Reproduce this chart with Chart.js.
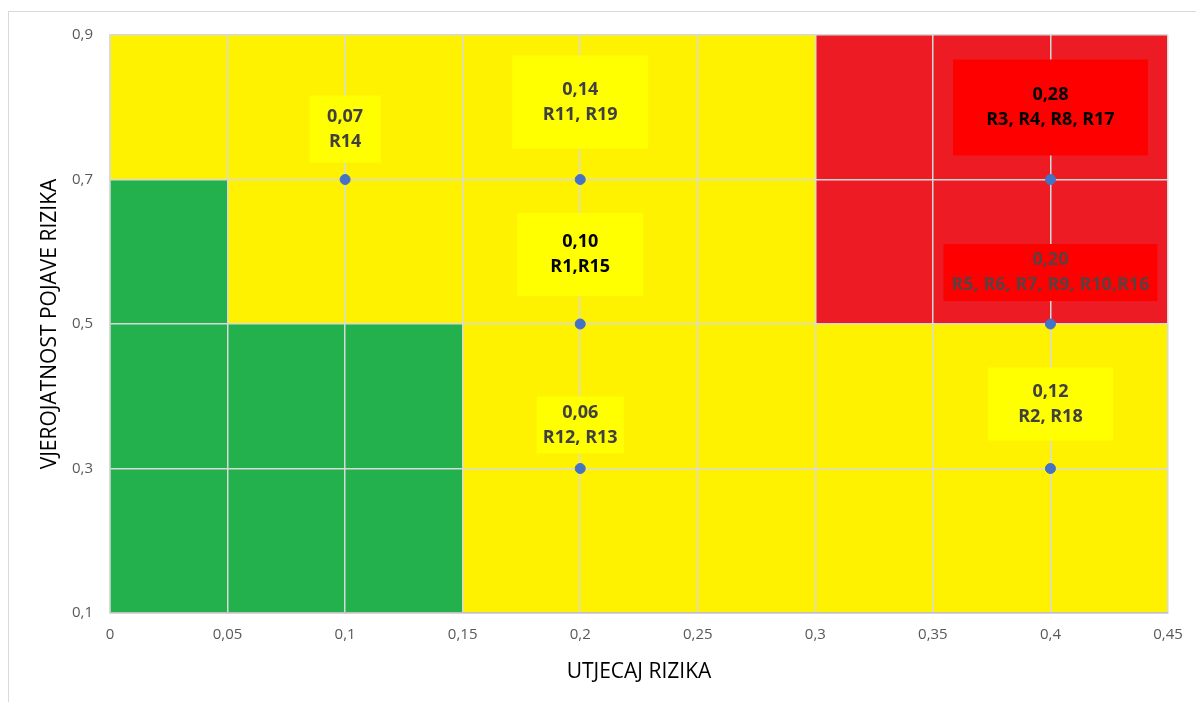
<!DOCTYPE html>
<html>
<head>
<meta charset="utf-8">
<script src="https://cdn.jsdelivr.net/npm/chart.js@4.4.1/dist/chart.umd.min.js"></script>
<style>
  html, body { margin: 0; padding: 0; background: #fff; overflow: hidden; }
  #frame { position: absolute; left: 8px; top: 11px; width: 1200px; height: 700px; border: 1px solid #d9d9d9; box-sizing: border-box; }
  #wrap { position: absolute; left: 0; top: 0; width: 1196px; height: 702px; }
</style>
</head>
<body>
<div id="frame"></div>
<div id="wrap"><canvas id="riskChart"></canvas></div>
<script>
// RISK MATRIX DATA
var impact = [0.1, 0.2, 0.2, 0.2, 0.4, 0.4, 0.4];
var probability = [0.7, 0.7, 0.5, 0.3, 0.7, 0.5, 0.3];
var scores = ["0,07", "0,14", "0,10", "0,06", "0,28", "0,20", "0,12"];
var risks = ["R14", "R11, R19", "R1,R15", "R12, R13", "R3, R4, R8, R17", "R5, R6, R7, R9, R10,R16", "R2, R18"];

var xTicks = [0, 0.05, 0.1, 0.15, 0.2, 0.25, 0.3, 0.35, 0.4, 0.45];
var yTicks = [0.1, 0.3, 0.5, 0.7, 0.9];

// zones (impact from-to, probability from-to)
var zoneX0 = [0, 0, 0.05, 0.3];
var zoneX1 = [0.45, 0.05, 0.15, 0.45];
var zoneY0 = [0.1, 0.1, 0.1, 0.5];
var zoneY1 = [0.9, 0.7, 0.5, 0.9];
var zoneColors = ["#fff200", "#22b14c", "#22b14c", "#ed1c24"];

// label box styles (one per point)
var boxW = [71, 136, 126, 87, 195, 214, 125];
var boxH = [67, 93, 83, 57, 96, 57, 73];
var boxGap = [17, 31, 28, 15, 24, 23, 28];
var boxFill = ["#ffff00", "#ffff00", "#ffff00", "#ffff00", "#ff0000", "#ff0000", "#ffff00"];
var textColor = ["#404040", "#404040", "#000000", "#404040", "#000000", "#5a4040", "#404040"];

function fmt(v) {
	return String(v).replace(".", ",");
}

var zonesPlugin = {
	id: "zones",
	beforeDraw: function (chart) {
		var ctx = chart.ctx;
		var xs = chart.scales.x, ys = chart.scales.y;
		ctx.save();
		for (var i = 0; i < zoneColors.length; i++) {
			var l = xs.getPixelForValue(zoneX0[i]);
			var r = xs.getPixelForValue(zoneX1[i]);
			var t = ys.getPixelForValue(zoneY1[i]);
			var b = ys.getPixelForValue(zoneY0[i]);
			ctx.fillStyle = zoneColors[i];
			ctx.fillRect(l, t, r - l, b - t);
		}
		ctx.restore();
	}
};

var labelsPlugin = {
	id: "boxLabels",
	afterDatasetsDraw: function (chart) {
		var ctx = chart.ctx;
		var pts = chart.getDatasetMeta(0).data;
		ctx.save();
		ctx.textAlign = "center";
		ctx.textBaseline = "middle";
		ctx.font = "bold 18px 'Open Sans', sans-serif";
		for (var i = 0; i < pts.length; i++) {
			var px = pts[i].x, py = pts[i].y;
			var bottom = py - boxGap[i];
			var top = bottom - boxH[i];
			ctx.fillStyle = boxFill[i];
			ctx.fillRect(px - boxW[i] / 2, top, boxW[i], boxH[i]);
			var cy = top + boxH[i] / 2;
			ctx.fillStyle = textColor[i];
			ctx.fillText(scores[i], px, cy - 12.5);
			ctx.fillText(risks[i], px, cy + 12.5);
		}
		ctx.restore();
	}
};

var points = [];
for (var i = 0; i < impact.length; i++) {
	points.push({ x: impact[i], y: probability[i] });
}

new Chart(document.getElementById("riskChart"), {
	type: "scatter",
	data: {
		datasets: [
			{
				label: "Rizici",
				data: points,
				backgroundColor: "#4472c4",
				borderColor: "#4472c4",
				pointRadius: 5,
				pointHoverRadius: 5
			}
		]
	},
	options: {
		responsive: true,
		maintainAspectRatio: false,
		animation: false,
		layout: { padding: { left: 0, right: 28, top: 35, bottom: 0 } },
		plugins: {
			legend: { display: false },
			tooltip: { enabled: false }
		},
		scales: {
			x: {
				type: "linear",
				min: 0,
				max: 0.45,
				afterBuildTicks: function (scale) {
					scale.ticks = xTicks.map(function (v) { return { value: v }; });
				},
				afterFit: function (scale) { scale.height = 89; },
				grid: { color: "#d9d9d9", lineWidth: 1.5, drawTicks: false },
				border: { display: true, color: "#bfbfbf", width: 1.5 },
				ticks: {
					padding: 13,
					color: "#595959",
					font: { family: "'Open Sans', sans-serif", size: 15 },
					maxRotation: 0,
					autoSkip: false,
					callback: function (v) { return fmt(v); }
				},
				title: {
					display: true,
					text: "UTJECAJ RIZIKA",
					color: "#000000",
					font: { family: "'Open Sans', sans-serif", size: 21 },
					padding: { top: 0, bottom: 17 }
				}
			},
			y: {
				type: "linear",
				min: 0.1,
				max: 0.9,
				afterBuildTicks: function (scale) {
					scale.ticks = yTicks.map(function (v) { return { value: v }; });
				},
				afterFit: function (scale) { scale.width = 110; },
				grid: { color: "#d9d9d9", lineWidth: 1.5, drawTicks: false },
				border: { display: true, color: "#d9d9d9", width: 1.5 },
				ticks: {
					padding: 17,
					color: "#595959",
					font: { family: "'Open Sans', sans-serif", size: 15 },
					autoSkip: false,
					callback: function (v) { return fmt(v); }
				},
				title: {
					display: true,
					text: "VJEROJATNOST POJAVE RIZIKA",
					color: "#000000",
					font: { family: "'Open Sans', sans-serif", size: 21 },
					padding: { top: 37, bottom: 0 }
				}
			}
		}
	},
	plugins: [zonesPlugin, labelsPlugin]
});
</script>
</body>
</html>
